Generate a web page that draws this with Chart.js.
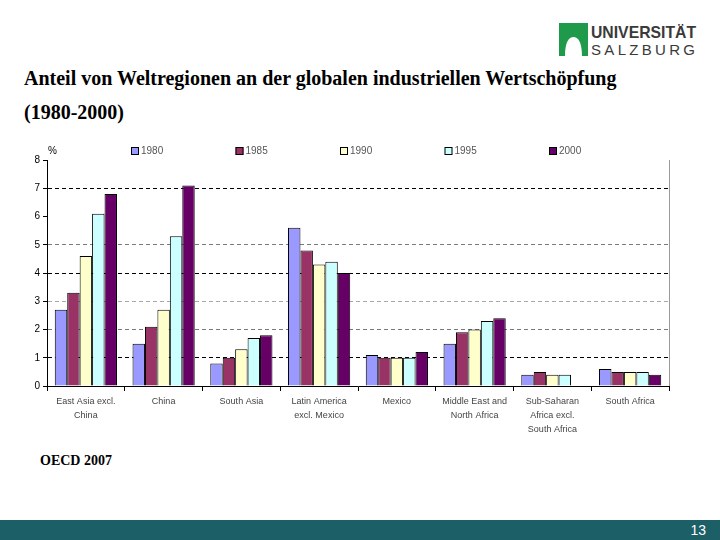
<!DOCTYPE html>
<html>
<head>
<meta charset="utf-8">
<script src="https://cdn.jsdelivr.net/npm/chart.js@4/dist/chart.umd.min.js"></script>
<style>
  body { margin: 0; width: 720px; height: 540px; background: #fff; position: relative; overflow: hidden; }
  .title { position: absolute; left: 24px; font-family: "Liberation Serif", serif; font-weight: bold; font-size: 20px; color: #000; white-space: nowrap; }
  #source { position: absolute; left: 40px; top: 453px; font-family: "Liberation Serif", serif; font-weight: bold; font-size: 14px; color: #000; }
  #chart-box { position: absolute; left: 0; top: 140px; width: 720px; height: 300px; }
  #footer { position: absolute; left: 0; top: 520px; width: 720px; height: 20px; background: #1d5f67; }
  #page-num { position: absolute; right: 14px; top: 2px; font-family: Arial, "Liberation Sans", sans-serif; font-size: 14px; color: #fff; }
  #logo { position: absolute; left: 558px; top: 22px; }
</style>
</head>
<body>
<div class="title" style="top:67px">Anteil von Weltregionen an der globalen industriellen Wertschöpfung</div>
<div class="title" style="top:101px">(1980-2000)</div>

<svg id="logo" width="140" height="36" viewBox="0 0 140 36">
  <path d="M1 1 H30 V34 H24 C24 20 20 15 15.5 15 C11 15 7 20 7 34 H1 Z" fill="#1f9a4a"/>
  <text x="33" y="16" font-family="Arial, 'Liberation Sans', sans-serif" font-weight="bold" font-size="17" fill="#3a3a3a" textLength="105" lengthAdjust="spacingAndGlyphs">UNIVERSITÄT</text>
  <text x="33" y="33" font-family="Arial, 'Liberation Sans', sans-serif" font-size="15" fill="#3a3a3a" textLength="104" lengthAdjust="spacing">SALZBURG</text>
</svg>

<div id="chart-box"><canvas id="bar-chart"></canvas></div>
<div id="source">OECD 2007</div>
<div id="footer"><span id="page-num">13</span></div>

<script>
// -----------DATA----------
const regions = [
  ["East Asia excl.", "China"],
  "China",
  "South Asia",
  ["Latin America", "excl. Mexico"],
  "Mexico",
  ["Middle East and", "North Africa"],
  ["Sub-Saharan", "Africa excl.", "South Africa"],
  "South Africa",
];
const years = ["1980", "1985", "1990", "1995", "2000"];
const share1980 = [2.7, 1.5, 0.8, 5.6, 1.1, 1.5, 0.4, 0.6];
const share1985 = [3.3, 2.1, 1.0, 4.8, 1.0, 1.9, 0.5, 0.5];
const share1990 = [4.6, 2.7, 1.3, 4.3, 1.0, 2.0, 0.4, 0.5];
const share1995 = [6.1, 5.3, 1.7, 4.4, 1.0, 2.3, 0.4, 0.5];
const share2000 = [6.8, 7.1, 1.8, 4.0, 1.2, 2.4, null, 0.4];
const yTicks = [0, 1, 2, 3, 4, 5, 6, 7, 8];

const seriesValues = [share1980, share1985, share1990, share1995, share2000];
const barColors = ["#9999ff", "#993366", "#ffffcc", "#ccffff", "#660066"];

// gridline colour per tick value (dark / mid / light as in the picture)
function gridColor(value) {
  if (value === 1 || value === 4 || value === 7) return "#000";
  if (value === 2 || value === 5) return "#7a7a7a";
  if (value === 3) return "#a8a8a8";
  return "rgba(0,0,0,0)";
}

// Legend row + "%" label + right frame line
const extrasPlugin = {
  id: "extras",
  afterDraw(chart) {
    const ctx = chart.ctx;
    const area = chart.chartArea;
    ctx.save();
    // right border of plot
    ctx.strokeStyle = "#9a9a9a";
    ctx.lineWidth = 1;
    ctx.beginPath();
    ctx.moveTo(area.right + 0.5, area.top);
    ctx.lineTo(area.right + 0.5, area.bottom);
    ctx.stroke();
    // percent sign
    ctx.fillStyle = "#000";
    ctx.font = "10px Arial, 'Liberation Sans', sans-serif";
    ctx.textBaseline = "middle";
    ctx.fillText("%", area.left + 1, 11);
    // legend
    chart.data.datasets.forEach((ds, i) => {
      const x = area.left + 84 + i * 104.5;
      ctx.fillStyle = ds.backgroundColor;
      ctx.fillRect(x, 7, 8, 8);
      ctx.strokeStyle = "#000";
      ctx.strokeRect(x + 0.5, 7.5, 7, 7);
      ctx.fillStyle = "#555";
      ctx.fillText(ds.label, x + 10, 11.5);
    });
    ctx.restore();
  },
};

const barChart = new Chart(document.getElementById("bar-chart"), {
  type: "bar",
  data: {
    labels: regions,
    datasets: years.map((y, i) => ({
      label: y,
      data: seriesValues[i],
      backgroundColor: barColors[i],
      borderColor: "#000",
      borderWidth: 1,
      borderSkipped: "bottom",
      categoryPercentage: 0.8,
      barPercentage: 1.0,
    })),
  },
  options: {
    responsive: true,
    maintainAspectRatio: false,
    animation: false,
    layout: { padding: { top: 20, right: 51, bottom: 0, left: 0 } },
    plugins: { legend: { display: false }, tooltip: { enabled: false } },
    scales: {
      x: {
        afterFit: (scale) => { scale.height = 54; },
        grid: {
          offset: true,
          drawOnChartArea: false,
          drawTicks: true,
          tickLength: 5,
          tickColor: "#000",
        },
        border: { color: "#000", width: 1 },
        ticks: {
          color: "#444",
          font: { family: "Arial, 'Liberation Sans', sans-serif", size: 9, lineHeight: 1.55 },
          padding: 4,
          maxRotation: 0,
          autoSkip: false,
        },
      },
      y: {
        min: 0,
        max: 8,
        afterFit: (scale) => { scale.width = 47; },
        afterBuildTicks: (scale) => { scale.ticks = yTicks.map((v) => ({ value: v })); },
        grid: {
          color: (c) => gridColor(c.tick ? c.tick.value : -1),
          tickColor: "#000",
          tickBorderDash: [],
          tickLength: 4,
        },
        border: { color: "#000", width: 1, dash: [4, 3] },
        ticks: {
          color: "#000",
          font: { family: "Arial, 'Liberation Sans', sans-serif", size: 10 },
          padding: 3,
        },
      },
    },
  },
  plugins: [extrasPlugin],
});
</script>
</body>
</html>
